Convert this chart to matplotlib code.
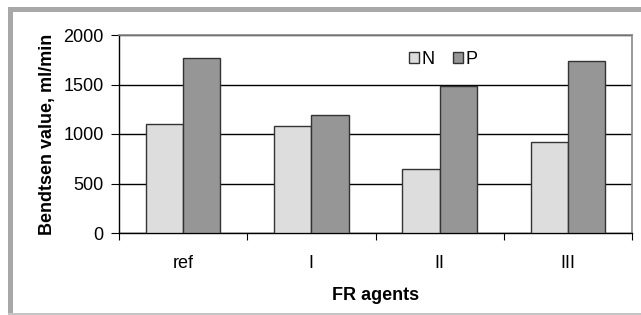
import numpy as np
import matplotlib
matplotlib.use("Agg")
import matplotlib.pyplot as plt
from matplotlib.patches import Rectangle

categories = ["ref", "I", "II", "III"]
values_n = [1100, 1080, 650, 920]
values_p = [1770, 1195, 1485, 1740]
y_ticks = [0, 500, 1000, 1500, 2000]

plt.rcParams["font.family"] = ["Liberation Sans", "DejaVu Sans"]

W, H = 641, 315
fig = plt.figure(figsize=(W / 100, H / 100), dpi=100)

# gray frame around the chart
fig.patches.append(Rectangle((8 / W, 1 - 12 / H), 1 - 8 / W, 5 / H,
                             transform=fig.transFigure, color="#a8a8a8", lw=0))
fig.patches.append(Rectangle((8 / W, 1 / H), 5 / W, 1 - 13 / H,
                             transform=fig.transFigure, color="#a8a8a8", lw=0))
fig.patches.append(Rectangle((8 / W, 0), 1 - 8 / W, 2 / H,
                             transform=fig.transFigure, color="#c4c4c4", lw=0))

ax = fig.add_axes([119 / W, 1 - 233 / H, (632 - 119) / W, (233 - 35) / H])

x = np.arange(len(categories))
width = 0.29
ax.bar(x - width / 2, values_n, width, color="#dddddd", edgecolor="#333333",
       linewidth=1.0, label="N", zorder=3)
ax.bar(x + width / 2, values_p, width, color="#969696", edgecolor="#333333",
       linewidth=1.0, label="P", zorder=3)

ax.set_xlim(-0.5, len(categories) - 0.5)
ax.set_ylim(0, 2000)
ax.set_yticks(y_ticks)
ax.set_yticklabels([str(v) for v in y_ticks], fontsize=13)
ax.yaxis.grid(True, color="black", linewidth=1.0, zorder=0)

# category labels between boundary ticks
ax.set_xticks(np.arange(len(categories) + 1) - 0.5)
ax.set_xticklabels([])
ax.set_xticks(x, minor=True)
ax.set_xticklabels(categories, minor=True, fontsize=13)
ax.tick_params(axis="x", which="minor", length=0, pad=16)
ax.tick_params(axis="x", which="major", length=5, direction="out", color="black")
ax.tick_params(axis="y", length=6, direction="out", color="black", pad=5)

for side in ("top", "right"):
    ax.spines[side].set_color("#888888")
    ax.spines[side].set_linewidth(1.2)
for side in ("left", "bottom"):
    ax.spines[side].set_color("black")
    ax.spines[side].set_linewidth(1.0)

ax.set_xlabel("FR agents", fontsize=13, fontweight="bold", labelpad=11)
ax.set_ylabel("Bendtsen value, ml/min", fontsize=13, fontweight="bold", labelpad=5)

ax.legend(loc="center left", bbox_to_anchor=(0.565, 0.875), ncol=2, frameon=False,
          fontsize=13, handlelength=0.55, handleheight=0.55, handletextpad=0.15,
          columnspacing=1.0, borderaxespad=0, borderpad=0)

fig.savefig("out.png", dpi=100)
